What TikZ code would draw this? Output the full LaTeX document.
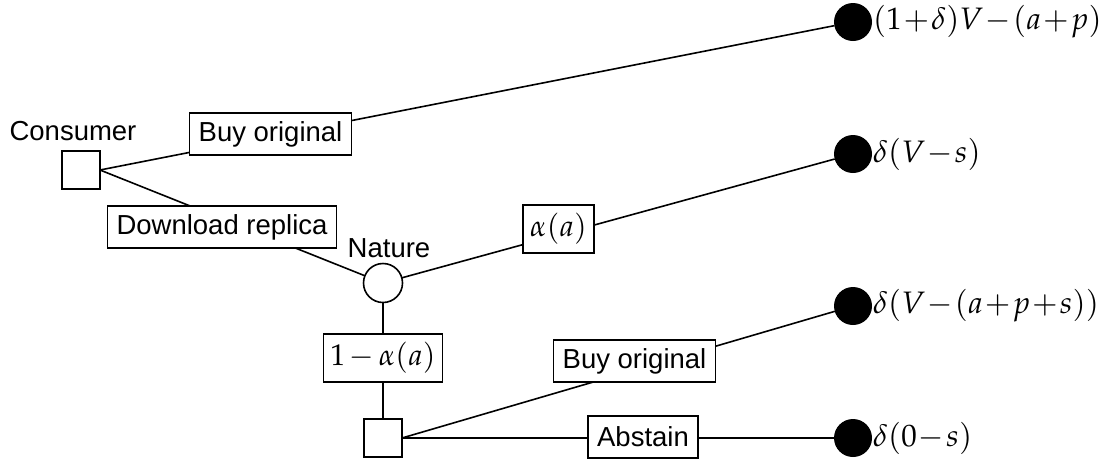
\documentclass[tikz,border=0pt]{standalone}
\usepackage{mathpazo}
\usepackage[no-math]{fontspec}
\newfontfamily\lsans{Liberation Sans}
\newcommand\labmath[1]{$\medmuskip=2.5mu\relax #1$}
\newcommand\paymath[1]{$\medmuskip=1mu\relax #1$}
\begin{document}
\begin{tikzpicture}[x=1pt,y=-1pt,
  every node/.style={inner sep=0pt, outer sep=0pt},
  edge/.style={line width=1.6pt},
  decision/.style={draw, line width=1.6pt, minimum size=38pt, rectangle},
  chance/.style={draw, line width=1.6pt, minimum size=39pt, circle},
  terminal/.style={fill=black, circle, minimum size=38pt},
  lbl/.style={draw, fill=white, line width=1.6pt, font=\lsans\fontsize{27.5}{30}\selectfont, minimum height=42pt, inner xsep=9pt},
  mlbl/.style={draw, fill=white, line width=1.6pt, font=\fontsize{30}{33}\selectfont, minimum height=48pt, inner xsep=7pt},
  playername/.style={font=\lsans\fontsize{27.5}{30}\selectfont},
  payoff/.style={anchor=west, font=\fontsize{31}{34}\selectfont}
]
\useasboundingbox (0,0) rectangle (1107,464);
% main nodes
\node[decision] (c1) at (81,170) {};
\node[chance] (nat) at (383,283) {};
\node[decision] (c2) at (383,438) {};
\node[terminal] (t1) at (853,22) {};
\node[terminal] (t2) at (853,154) {};
\node[terminal] (t3) at (853,306) {};
\node[terminal] (t4) at (853,438) {};
% names
\node[playername] (cname) at (73,131) {Consumer};
\node[playername] (nname) at (389,248) {Nature};
% edges
\draw[edge] (c1.east) -- (t1);
\draw[edge] (c1.east) -- (nat);
\draw[edge] (nat) -- (t2);
\draw[edge] (nat) -- (c2);
\draw[edge] (c2.east) -- (t3);
\draw[edge] (c2.east) -- (t4);
% edge labels
\node[lbl] (lbuy1) at (270.5,134) {Buy original};
\node[lbl] (ldown) at (222,227) {Download replica};
\node[mlbl] (lalpha) at (558.5,229) {\labmath{\alpha(a)}};
\node[mlbl] (lnalpha) at (383,358) {\labmath{1-\alpha(a)}};
\node[lbl] (lbuy2) at (634.5,361) {Buy original};
\node[lbl] (labs) at (643,437) {Abstain};
% payoffs
\node[payoff] (p1) at (873,22) {\paymath{(1+\delta)V-(a+p)}};
\node[payoff] (p2) at (873,154) {\paymath{\delta(V-s)}};
\node[payoff] (p3) at (873,306) {\paymath{\delta(V-(a+p+s))}};
\node[payoff] (p4) at (873,438) {\paymath{\delta(0-s)}};
\end{tikzpicture}
\end{document}
